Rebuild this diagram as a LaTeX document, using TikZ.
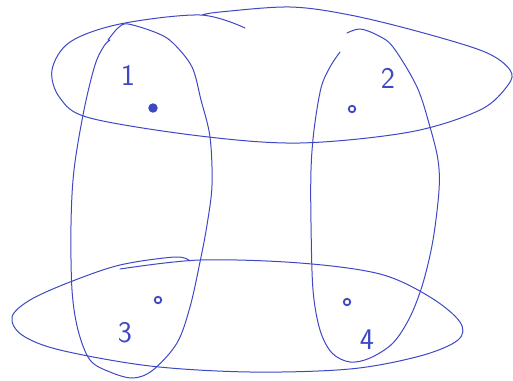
\documentclass[tikz,border=0pt]{standalone}
\usepackage{tikz}
\definecolor{pen}{RGB}{62,72,196}
\tikzset{
  hedge/.style={draw=pen, line width=1pt, line cap=round, line join=round},
  vtx/.style={circle, draw=pen, line width=1.8pt, inner sep=0pt, minimum size=6.5pt},
  vtxfill/.style={vtx, fill=pen, minimum size=7.5pt},
  lbl/.style={text=pen, font=\sffamily\fontsize{30}{30}\selectfont, inner sep=0pt}
}
\begin{document}
\begin{tikzpicture}[x=1pt,y=-1pt]
\useasboundingbox (0,0) rectangle (513,380);
% top hyperedge {1,2}
\draw[hedge] plot[smooth, tension=0.55] coordinates {(245,28) (200,15) (120,24) (70,42) (52,70) (60,98) (90,118) (200,136) (300,143) (410,132) (480,110) (508,85) (510,70) (485,52) (420,32) (350,15) (290,7) (220,12) (202,15)};
% bottom hyperedge {3,4}
\draw[hedge] plot[smooth, tension=0.55] coordinates {(120,269) (200,260) (300,263) (380,274) (430,297) (460,322) (458,340) (420,356) (350,369) (250,372) (150,366) (60,350) (22,335) (12,317) (30,300) (70,282) (120,265) (175,257) (190,261)};
% left hyperedge {1,3}
\draw[hedge] plot[smooth, tension=0.55] coordinates {(108,40) (118,28) (128,24) (157,33) (173,43) (192,67) (201,100) (210,137) (212,185) (207,225) (200,262) (190,307) (177,343) (153,370) (133,378) (110,372) (90,360) (78,330) (72,290) (71,225) (74,170) (84,110) (95,65) (104,46) (110,40)};
% right hyperedge {2,4}
\draw[hedge] plot[smooth, tension=0.55] coordinates {(347,33) (360,29) (377,35) (393,47) (417,87) (430,127) (438,160) (439,190) (433,240) (423,283) (410,317) (393,343) (370,358) (350,362) (332,353) (320,330) (313,290) (311,223) (311,170) (314,130) (321,88) (330,67) (340,52)};
% vertices
\node[vtxfill] (v1) at (153,108) {};
\node[vtx] (v2) at (352,109) {};
\node[vtx] (v3) at (158,300) {};
\node[vtx] (v4) at (347,302) {};
% labels
\node[lbl] (l1) at (128,75) {1};
\node[lbl] (l2) at (388,78) {2};
\node[lbl] (l3) at (125,333) {3};
\node[lbl] (l4) at (367,340) {4};
\end{tikzpicture}
\end{document}
